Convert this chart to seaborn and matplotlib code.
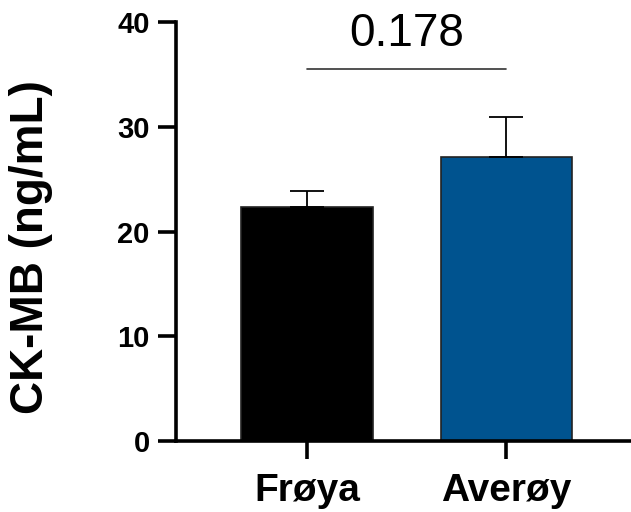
import matplotlib
matplotlib.use('Agg')
import matplotlib.pyplot as plt
import seaborn as sns
import pandas as pd

groups = ['Frøya', 'Averøy']
means = [22.3, 27.1]
sem = [1.6, 3.8]
colors = ['#000000', '#00538F']
p_text = '0.178'
p_y = 35.5

sns.set_style('ticks')
plt.rcParams['font.family'] = ['Liberation Sans', 'DejaVu Sans']
plt.rcParams['text.color'] = 'black'
plt.rcParams['axes.labelcolor'] = 'black'
plt.rcParams['xtick.color'] = 'black'
plt.rcParams['ytick.color'] = 'black'
plt.rcParams['axes.edgecolor'] = 'black'

df = pd.DataFrame({'group': groups, 'val': means})

fig = plt.figure(figsize=(6.31, 5.12), dpi=100)
ax = fig.add_axes([0.279, 0.1387, 0.719, 0.8183])

sns.barplot(data=df, x='group', y='val', hue='group', palette=colors,
            width=0.66, errorbar=None, legend=False, ax=ax,
            edgecolor='#222222', linewidth=1.2, saturation=1)
ax.errorbar(range(len(groups)), means, yerr=[[0] * len(sem), sem],
            fmt='none', ecolor='black', elinewidth=1.3, capsize=12,
            capthick=1.3, zorder=1)

ax.plot([0, 1], [p_y, p_y], color='#333333', lw=1.2)
ax.text(0.5, p_y + 1.3, p_text, ha='center', va='bottom', fontsize=33)

ax.set_xlim(-0.658, 1.62)
ax.set_ylim(0, 40)
ax.set_yticks([0, 10, 20, 30, 40])
ax.set_xlabel('')
ax.set_ylabel('CK-MB (ng/mL)', fontsize=33, fontweight='bold')
ax.yaxis.set_label_coords(-0.271, 0.463)
for s in ['top', 'right']:
    ax.spines[s].set_visible(False)
for s in ['left', 'bottom']:
    ax.spines[s].set_linewidth(2.6)
ax.tick_params(axis='both', length=13, width=2.6, direction='out')
ax.tick_params(axis='y', labelsize=21, pad=6)
ax.tick_params(axis='x', labelsize=28, pad=10)
for lab in ax.get_xticklabels() + ax.get_yticklabels():
    lab.set_fontweight('bold')

fig.savefig('out.png', dpi=100)
